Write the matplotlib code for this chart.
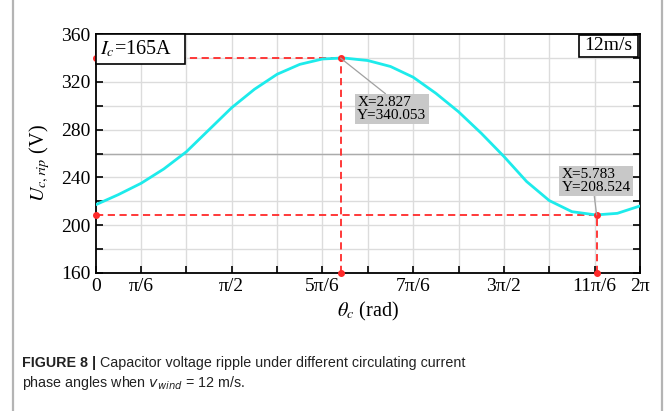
import numpy as np
import matplotlib
matplotlib.use('Agg')
import matplotlib.pyplot as plt
from matplotlib import font_manager
from matplotlib.patches import Rectangle
from matplotlib.lines import Line2D

plt.rcParams['font.family'] = 'Liberation Serif'
plt.rcParams['mathtext.fontset'] = 'stix'

# ripple curve (theta in rad, volts)
theta = [0.0, np.pi/12, 2*np.pi/12, 3*np.pi/12, 4*np.pi/12, 5*np.pi/12, 6*np.pi/12,
         7*np.pi/12, 8*np.pi/12, 9*np.pi/12, 10*np.pi/12, 2.827, 11*np.pi/12,
         12*np.pi/12, 13*np.pi/12, 14*np.pi/12, 15*np.pi/12, 16*np.pi/12,
         17*np.pi/12, 18*np.pi/12, 19*np.pi/12, 20*np.pi/12, 21*np.pi/12,
         22*np.pi/12, 5.783, 23*np.pi/12, 24*np.pi/12]
u_rip = [217.0, 225.5, 235.0, 247.0, 261.5, 280.0, 298.5,
         313.9, 326.5, 334.8, 339.3, 340.053, 340.0,
         338.0, 333.0, 324.0, 310.5, 295.0,
         277.0, 257.5, 236.5, 220.5, 211.2,
         208.6, 208.524, 209.8, 216.0]

peak_x, peak_y = 2.827, 340.053
low_x, low_y = 5.783, 208.524

xtick_vals = [k*np.pi/6 for k in range(13)]
xtick_labels = ['0', 'π/6', '', 'π/2', '', '5π/6', '', '7π/6', '', '3π/2', '', '11π/6', '2π']
ytick_vals = list(range(160, 361, 20))
ytick_labels = [str(v) if v % 40 == 0 else '' for v in ytick_vals]

fig = plt.figure(figsize=(6.65, 4.11), dpi=100)
ax = fig.add_axes([0.1439, 0.3365, 0.8185, 0.5800])

# grid
for xv in xtick_vals[1:-1]:
    ax.axvline(xv, color='#DCDCDC', lw=1.0, zorder=0.5)
for yv in ytick_vals[1:-1]:
    ax.axhline(yv, color='#DCDCDC', lw=1.0, zorder=0.5)
ax.axhline(260, color='#ABABAB', lw=1.0, zorder=0.6)

# red guide lines
red = '#FF2A2A'
ax.plot([0, peak_x], [peak_y, peak_y], ls=(0, (4, 2.5)), color=red, lw=1.3, zorder=2)
ax.plot([peak_x, peak_x], [160, peak_y], ls=(0, (4, 2.5)), color=red, lw=1.3, zorder=2)
ax.plot([0, low_x], [low_y, low_y], ls=(0, (4, 2.5)), color=red, lw=1.3, zorder=2)
ax.plot([low_x, low_x], [160, low_y], ls=(0, (4, 2.5)), color=red, lw=1.3, zorder=2)

ax.plot(theta, u_rip, color='#1DEBEB', lw=2.0, zorder=3, solid_capstyle='round',
        solid_joinstyle='round')

ax.plot([0, peak_x, peak_x, 0, low_x, low_x], [peak_y, peak_y, 160, low_y, low_y, 160],
        'o', color=red, ms=4, zorder=5, clip_on=False)

ax.set_xlim(0, 2*np.pi)
ax.set_ylim(160, 360)
ax.set_xticks(xtick_vals)
ax.set_xticklabels(xtick_labels, fontsize=14)
ax.set_yticks(ytick_vals)
ax.set_yticklabels(ytick_labels, fontsize=14)
ax.tick_params(axis='both', direction='in', length=5, width=1.2, pad=4)
ax.tick_params(axis='y', right=True)
for s in ax.spines.values():
    s.set_linewidth(1.3)

# data point labels
box_style = dict(boxstyle='square,pad=0.15', facecolor='#C8C8C8', edgecolor='none')
ax.annotate('X=2.827\nY=340.053', xy=(peak_x, peak_y), xycoords='data',
            xytext=(0.4806, 0.741), textcoords='axes fraction', ha='left', va='top',
            fontsize=11, linespacing=1.0, bbox=box_style, zorder=6,
            arrowprops=dict(arrowstyle='-', color='#A0A0A0', lw=0.9, relpos=(0.45, 1.0),
                            shrinkA=0, shrinkB=0))
ax.annotate('X=5.783\nY=208.524', xy=(low_x, low_y), xycoords='data',
            xytext=(0.8558, 0.439), textcoords='axes fraction', ha='left', va='top',
            fontsize=11, linespacing=1.0, bbox=box_style, zorder=6,
            arrowprops=dict(arrowstyle='-', color='#A0A0A0', lw=0.9, relpos=(0.47, 0.0),
                            shrinkA=0, shrinkB=0))

# corner boxes
ax.add_patch(Rectangle((0, 0.874), 0.164, 0.126, transform=ax.transAxes,
                       facecolor='white', edgecolor='black', lw=1.2, zorder=7, clip_on=False))
ax.text(0.008, 0.938, r'$I_c$=165A', transform=ax.transAxes, ha='left', va='center',
        fontsize=14.5, zorder=8)
ax.add_patch(Rectangle((0.888, 0.905), 0.108, 0.093, transform=ax.transAxes,
                       facecolor='white', edgecolor='black', lw=1.2, zorder=7))
ax.text(0.942, 0.951, '12m/s', transform=ax.transAxes, ha='center', va='center',
        fontsize=14, zorder=8)

# axis titles
fig.text(0.060, 0.602, r'$U_{c,rip}$ (V)', rotation=90, ha='center', va='center', fontsize=14.5)
fig.text(0.553, 0.243, r'$\theta_c$ (rad)', ha='center', va='center', fontsize=14.5)

# side frame lines
fig.add_artist(Line2D([13/665, 13/665], [0, 1], color='#B4B4B4', lw=1.6))
fig.add_artist(Line2D([662/665, 662/665], [0, 1], color='#B4B4B4', lw=1.6))

# caption
names = {f.name for f in font_manager.fontManager.ttflist}
if 'Liberation Sans Narrow' in names:
    cap_font, cap_size = 'Liberation Sans Narrow', 12.3
else:
    cap_font, cap_size = 'Liberation Sans', 10.3
t1 = fig.text(22/665, 1 - 367.3/411, 'FIGURE 8 |', fontsize=cap_size, fontweight='bold',
              family=cap_font, va='baseline', ha='left', color='#222222')
ax.annotate(' Capacitor voltage ripple under different circulating current',
            xy=(1, 0), xycoords=t1, va='bottom', ha='left', fontsize=cap_size,
            family=cap_font, color='#222222', annotation_clip=False)
fig.text(22/665, 1 - 387.3/411, r'phase angles when $v_{wind}$ = 12 m/s.', fontsize=cap_size,
         family=cap_font, va='baseline', ha='left', color='#222222', math_fontfamily='dejavusans')

fig.savefig('out.png', dpi=100)
